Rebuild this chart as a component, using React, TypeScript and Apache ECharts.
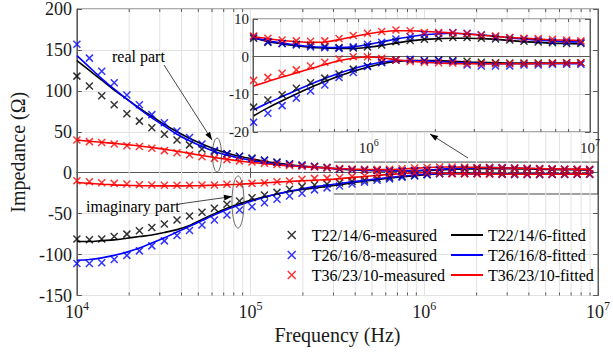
import { useEffect, useRef } from 'react';
import * as echarts from 'echarts';

const FONT = 'Liberation Serif';
const TXT = '#1a1a1a';
const AXIS = '#5a5a5a';
const GRID = '#e3e3e3';
const CROSS = 'path://M0,0L10,10M10,0L0,10';

const measuredNames = ['T22/14/6-measured', 'T26/16/8-measured', 'T36/23/10-measured'];
const fittedNames = ['T22/14/6-fitted', 'T26/16/8-fitted', 'T36/23/10-fitted'];
const seriesColors = ['#000000', '#0000ff', '#ff0000'];

// measurement frequencies of the main plot (Hz)
const freqMain = [10000, 11800, 13900, 16400, 19400, 22900, 27000, 31900, 37700, 44500, 52500, 61900, 73100, 86300,
  101900, 120200, 141900, 167500, 197700, 233300, 275400, 325100, 383700, 452900, 534600, 631000, 744700, 879000,
  1037500, 1224600, 1445400, 1706100, 2013700, 2376800, 2805400, 3311300, 3908400, 4613200, 5445000, 6426900,
  7585800, 8953600];

// main plot measured values (Ohm)
const blackReMeas = [118, 106, 94, 83, 72, 63, 55, 47, 40, 34, 29, 26, 23, 20, 18, 15.5, 13, 11, 9.5, 8, 6.5,
  4.3, 3.6, 3.4, 3.0, 2.7, 2.4, 2.3, 2.8, 3.4, 4.1, 4.5, 4.8, 5.1, 5.1, 4.9, 4.7, 4.4, 4.1, 3.9, 3.7, 3.5];
const blueReMeas = [157, 140, 124, 110, 95, 83, 71, 61, 51, 43, 35, 27, 23, 20, 17, 15, 12.5, 10.5, 9, 7.5, 6,
  4.6, 3.7, 3.2, 2.7, 2.4, 2.2, 2.7, 3.4, 4.2, 5.0, 5.7, 6.1, 6.4, 6.2, 5.7, 5.2, 4.9, 4.5, 4.2, 4.0, 3.8];
const redReMeas = [40, 38, 37, 35, 33, 32, 30, 27, 24.5, 22, 19.5, 17.5, 16, 14.5, 13, 11.5, 10, 9, 8, 7, 6,
  5.2, 4.6, 4.3, 4.1, 4.2, 4.9, 5.7, 6.4, 6.9, 7.0, 6.6, 6.4, 6.3, 6.1, 5.7, 5.4, 5.0, 4.8, 4.6, 4.4, 4.2];
const blackImMeas = [-81, -82, -81, -78, -75, -71, -67, -62.6, -57.7, -52.8, -48.3, -43.4, -38.6, -34.5, -30.5,
  -27.2, -24, -20.3, -17, -15, -13.8, -12.4, -10.6, -8.8, -7.1, -5.7, -4.5, -3.2, -2.3, -1.3, -0.9, -0.9, -1.0,
  -0.9, -1.1, -1.4, -1.6, -1.7, -1.7, -1.7, -1.6, -1.6];
const blueImMeas = [-111, -111, -110, -106, -101, -95.5, -89.4, -83.3, -76.8, -70.7, -63.8, -57.7, -51.6, -45.5,
  -41.5, -36.6, -32.4, -28.4, -25.2, -21, -18.5, -16.2, -13.8, -11.5, -9.3, -7.5, -5.4, -3.9, -2.3, -1.3, -0.8,
  -0.9, -1.0, -1.2, -2.2, -2.5, -2.5, -2.4, -2.2, -2.1, -2.0, -2.0];
const redImMeas = [-9.8, -11, -12.2, -13, -13.8, -14.6, -15, -15.4, -15.4, -15.4, -15, -15, -14.2, -13.8, -13,
  -12.2, -11, -10.1, -8, -6.9, -6.6, -5.9, -4.8, -3.7, -2.6, -1.5, -0.5, 0, -0.1, -0.6, -1.1, -1.4, -1.6, -1.7,
  -1.9, -1.9, -1.9, -1.9, -1.9, -1.8, -1.7, -1.6];

// fitted values at the first 21 main frequencies (below 3e5 Hz)
const blackReFitLow = [137, 125, 113, 101, 90, 79, 69, 59, 50, 42, 35, 29, 24, 20, 16.8, 14, 11.7, 9.8, 8.2, 7.0, 5.9];
const blueReFitLow = [143, 129, 115, 102, 90, 78, 67, 57, 47, 39, 32, 26, 21.5, 18, 15, 12.5, 10.5, 9.0, 7.8, 6.8, 5.8];
const redReFitLow = [40, 38.5, 37.2, 35.8, 34.3, 32.7, 30.8, 28.6, 26.2, 23.6, 21, 18.6, 16.4, 14.4, 12.6, 11, 9.6,
  8.4, 7.3, 6.5, 5.8];
const blackImFitLow = [-84, -84, -83, -82, -80, -78, -76, -73, -69.5, -64.5, -57, -50, -43.5, -38, -33.5, -29.5,
  -26, -23, -20.5, -18.5, -16.8];
const blueImFitLow = [-107, -106, -104, -101, -97, -92, -86, -79.5, -72.5, -65.5, -58.5, -51.5, -45, -39.5, -34.5,
  -30, -26, -22.5, -19.5, -17, -15.2];
const redImFitLow = [-12, -13, -14, -14.8, -15.4, -15.8, -16, -16.1, -16.1, -16, -15.7, -15.3, -14.7, -14, -13.2,
  -12.4, -11.5, -10.7, -9.9, -9.2, -8.4];

// inset frequencies (Hz)
const freqZoom = [302000, 350200, 406100, 470900, 546000, 633100, 734200, 851300, 987200, 1144700, 1327400,
  1539200, 1784800, 2069700, 2400000, 2782900, 3227000, 3741900, 4339100, 5031500, 5834500, 6765400, 7845100,
  9097000];

// inset measured values
const zBlackReMeas = [4.9, 3.8, 3.5, 3.3, 3.0, 2.7, 2.4, 2.3, 2.6, 3.1, 4.0, 4.3, 4.6, 4.9, 5.1, 5.1, 4.9, 4.7, 4.4,
  4.1, 3.9, 3.7, 3.5, 3.5];
const zBlueReMeas = [5.3, 4.0, 3.5, 3.1, 2.6, 2.4, 2.2, 2.6, 3.3, 3.8, 4.7, 5.3, 5.9, 6.2, 6.4, 6.2, 5.8, 5.3, 5.0,
  4.7, 4.4, 4.1, 4.0, 3.8];
const zRedReMeas = [5.5, 4.9, 4.4, 4.2, 4.1, 4.2, 4.8, 5.6, 6.2, 6.7, 7.1, 6.9, 6.4, 6.4, 6.3, 6.1, 5.7, 5.5, 5.1,
  4.9, 4.8, 4.6, 4.4, 4.2];
const zBlackImMeas = [-13.4, -11.5, -10.1, -8.4, -6.9, -5.7, -4.6, -3.3, -2.5, -1.4, -0.9, -0.9, -1.1, -0.9, -1.0,
  -1.2, -1.5, -1.6, -1.7, -1.7, -1.7, -1.7, -1.6, -1.6];
const zBlueImMeas = [-17.4, -15, -13, -11, -9.1, -7.5, -5.5, -4.2, -2.6, -1.6, -0.9, -0.7, -1.1, -1.0, -1.2, -2.2,
  -2.5, -2.5, -2.5, -2.2, -2.2, -2.0, -2.0, -2.0];
const zRedImMeas = [-6.3, -5.5, -4.4, -3.5, -2.5, -1.5, -0.6, 0, 0, -0.4, -0.9, -1.3, -1.5, -1.6, -1.7, -1.9, -1.9,
  -1.9, -1.9, -1.9, -1.9, -1.7, -1.7, -1.6];

// inset fitted values
const zBlackReFit = [5.0, 4.0, 3.4, 2.9, 2.5, 2.3, 2.2, 2.2, 2.5, 3.0, 3.6, 4.2, 4.6, 4.8, 4.9, 4.9, 4.8, 4.6, 4.3,
  4.0, 3.8, 3.6, 3.5, 3.4];
const zBlueReFit = [5.0, 4.2, 3.6, 3.1, 2.7, 2.5, 2.4, 2.6, 3.2, 3.9, 4.7, 5.3, 5.8, 6.1, 6.2, 6.1, 5.8, 5.4, 5.0,
  4.7, 4.4, 4.2, 4.0, 3.9];
const zRedReFit = [5.3, 4.8, 4.3, 4.0, 3.8, 3.9, 4.5, 5.3, 6.0, 6.6, 6.9, 6.9, 6.7, 6.5, 6.3, 6.0, 5.7, 5.4, 5.1,
  4.9, 4.7, 4.5, 4.4, 4.3];
const zBlackImFit = [-15.7, -13.6, -11.7, -9.9, -8.2, -6.6, -5.2, -3.9, -2.8, -1.9, -1.3, -1.0, -1.0, -1.1, -1.2,
  -1.4, -1.5, -1.6, -1.7, -1.7, -1.7, -1.7, -1.7, -1.7];
const zBlueImFit = [-14.1, -12.3, -10.6, -8.9, -7.3, -5.8, -4.4, -3.2, -2.2, -1.5, -1.1, -1.0, -1.1, -1.3, -1.5,
  -1.7, -1.8, -1.9, -1.9, -1.9, -1.9, -1.9, -1.9, -1.9];
const zRedImFit = [-7.8, -6.6, -5.4, -4.3, -3.2, -2.1, -1.1, -0.4, -0.1, -0.3, -0.8, -1.2, -1.5, -1.7, -1.8, -1.9,
  -1.9, -1.9, -1.9, -1.9, -1.8, -1.8, -1.7, -1.7];

// axis ranges / ticks
const mainX = [1e4, 1e7];
const mainY = [-150, 200];
const mainYStep = 50;
const zoomX = [3e5, 1e7];
const zoomY = [-20, 10];
const zoomYStep = 10;
const zoomBox = [[3e5, 13], [1e7, -26]];

const minorOf = (lo: number, hi: number) => {
  const out: number[] = [];
  for (let d = 1e4; d < hi; d *= 10) {
    for (let m = 2; m <= 9; m++) {
      const v = m * d;
      if (v > lo && v < hi) out.push(v);
    }
  }
  return out;
};

const pairs = (fs: number[], vs: number[]) => fs.map((f, i) => [f, vs[i]]);

const logLabel = (v: number) => {
  const l = Math.log10(v);
  const e = Math.round(l);
  if (Math.abs(l - e) > 1e-6) return '';
  return `{b|10}{s|${e}}`;
};

export default function App() {
  const ref = useRef<HTMLDivElement>(null);
  useEffect(() => {
    if (!ref.current) return;
    const chart = echarts.init(ref.current, undefined, { renderer: 'svg' });

    const mainMeas = [[blackReMeas, blackImMeas], [blueReMeas, blueImMeas], [redReMeas, redImMeas]];
    const lowFit = [[blackReFitLow, blackImFitLow], [blueReFitLow, blueImFitLow], [redReFitLow, redImFitLow]];
    const zMeas = [[zBlackReMeas, zBlackImMeas], [zBlueReMeas, zBlueImMeas], [zRedReMeas, zRedImMeas]];
    const zFit = [[zBlackReFit, zBlackImFit], [zBlueReFit, zBlueImFit], [zRedReFit, zRedImFit]];
    const freqLow = freqMain.slice(0, blackReFitLow.length);

    const minorRender = (yMin: number, yMax: number) => (params: any, api: any) => {
      const f = api.value(0);
      const a = api.coord([f, yMax]);
      const b = api.coord([f, yMin]);
      return {
        type: 'group',
        children: [
          { type: 'line', shape: { x1: a[0], y1: a[1], x2: b[0], y2: b[1] }, style: { stroke: GRID, lineWidth: 1 } },
          { type: 'line', shape: { x1: b[0], y1: b[1], x2: b[0], y2: b[1] - 3 }, style: { stroke: AXIS, lineWidth: 1 } },
          { type: 'line', shape: { x1: a[0], y1: a[1], x2: a[0], y2: a[1] + 3 }, style: { stroke: AXIS, lineWidth: 1 } },
        ],
      };
    };

    const series: any[] = [];
    series.push({
      type: 'custom', xAxisIndex: 0, yAxisIndex: 0, silent: true, z: 1,
      data: minorOf(mainX[0], mainX[1]).map((f) => [f, 0]), encode: { x: 0, y: 1 },
      renderItem: minorRender(mainY[0], mainY[1]),
    });
    series.push({
      type: 'custom', xAxisIndex: 2, yAxisIndex: 2, silent: true, z: 11,
      data: minorOf(zoomX[0], zoomX[1]).map((f) => [f, 0]), encode: { x: 0, y: 1 },
      renderItem: minorRender(zoomY[0], zoomY[1]),
    });

    const addSet = (inset: boolean) => {
      const xi = inset ? 2 : 0;
      const z = inset ? 12 : 2;
      for (let c = 0; c < 3; c++) {
        for (let p = 0; p < 2; p++) {
          const s: any = {
            type: 'scatter', name: measuredNames[c], xAxisIndex: xi, yAxisIndex: xi, z, silent: true,
            data: inset ? pairs(freqZoom, zMeas[c][p]) : pairs(freqMain, mainMeas[c][p]),
            symbol: CROSS, symbolSize: 7, symbolKeepAspect: true,
            itemStyle: { color: 'rgba(0,0,0,0)', borderColor: seriesColors[c], borderWidth: 1.5 },
          };
          if (!inset && c === 0 && p === 0) {
            s.markArea = {
              silent: true,
              itemStyle: { color: 'rgba(0,0,0,0)', borderColor: '#444', borderWidth: 1 },
              data: [[{ coord: zoomBox[0] }, { coord: zoomBox[1] }]],
            };
          }
          series.push(s);
        }
      }
      for (let c = 0; c < 3; c++) {
        for (let p = 0; p < 2; p++) {
          const data = inset
            ? pairs(freqZoom, zFit[c][p])
            : [...pairs(freqLow, lowFit[c][p]), ...pairs(freqZoom, zFit[c][p])];
          series.push({
            type: 'line', name: fittedNames[c], xAxisIndex: xi, yAxisIndex: xi, z, silent: true,
            data, symbol: 'none', showSymbol: false, smooth: 0.3,
            lineStyle: { color: seriesColors[c], width: 1.6 }, itemStyle: { color: seriesColors[c] },
          });
        }
      }
    };
    addSet(false);
    addSet(true);

    const richMain = {
      b: { fontSize: 18, fontFamily: FONT, color: TXT, padding: [3, 0, 0, 0] },
      s: { fontSize: 12, fontFamily: FONT, color: TXT, verticalAlign: 'top' },
    };
    const richZoom = {
      b: { fontSize: 15, fontFamily: FONT, color: TXT, padding: [3, 0, 0, 0] },
      s: { fontSize: 10, fontFamily: FONT, color: TXT, verticalAlign: 'top' },
    };
    const axisLine = { show: true, lineStyle: { color: AXIS, width: 1 } };
    const tick = { show: true, inside: true, length: 5, lineStyle: { color: AXIS, width: 1 } };
    const split = { show: true, lineStyle: { color: GRID, width: 1 } };

    const arrowHead = (tip: number[], from: number[]) => {
      const dx = tip[0] - from[0];
      const dy = tip[1] - from[1];
      const len = Math.hypot(dx, dy);
      const ux = dx / len, uy = dy / len;
      const bx = tip[0] - 8 * ux, by = tip[1] - 8 * uy;
      return {
        type: 'polygon', z: 20, silent: true,
        shape: { points: [tip, [bx - 2.8 * uy, by + 2.8 * ux], [bx + 2.8 * uy, by - 2.8 * ux]] },
        style: { fill: '#000' },
      };
    };
    const arrow = (from: number[], tip: number[]) => [
      { type: 'line', z: 20, silent: true, shape: { x1: from[0], y1: from[1], x2: tip[0], y2: tip[1] }, style: { stroke: '#333', lineWidth: 0.9 } },
      arrowHead(tip, from),
    ];

    const labelFont = { fontFamily: FONT, color: TXT };

    const option: any = {
      animation: false,
      backgroundColor: '#ffffff',
      textStyle: { fontFamily: FONT },
      grid: [
        { left: 73, top: 9, width: 528, height: 286.5, show: true, borderColor: AXIS, borderWidth: 1, backgroundColor: 'rgba(0,0,0,0)', z: 0 },
        { left: 253, top: 19, width: 337, height: 113, show: true, borderColor: AXIS, borderWidth: 1, backgroundColor: '#ffffff', z: 10 },
      ],
      xAxis: [
        {
          type: 'log', logBase: 10, gridIndex: 0, min: mainX[0], max: mainX[1], position: 'bottom',
          axisLine, axisTick: tick, splitLine: split,
          axisLabel: { ...labelFont, formatter: logLabel, rich: richMain, margin: 4, showMinLabel: true, showMaxLabel: true, hideOverlap: false },
          name: 'Frequency (Hz)', nameLocation: 'middle', nameGap: 25,
          nameTextStyle: { ...labelFont, fontSize: 20 },
        },
        {
          type: 'log', logBase: 10, gridIndex: 0, min: mainX[0], max: mainX[1], position: 'top',
          axisLine, axisTick: tick, splitLine: { show: false }, axisLabel: { show: false },
        },
        {
          type: 'log', logBase: 10, gridIndex: 1, min: zoomX[0], max: zoomX[1], position: 'bottom', z: 11,
          axisLine, axisTick: tick, splitLine: split,
          axisLabel: { ...labelFont, formatter: logLabel, rich: richZoom, margin: 5, showMinLabel: true, showMaxLabel: true, hideOverlap: false },
        },
        {
          type: 'log', logBase: 10, gridIndex: 1, min: zoomX[0], max: zoomX[1], position: 'top', z: 11,
          axisLine, axisTick: tick, splitLine: { show: false }, axisLabel: { show: false },
        },
      ],
      yAxis: [
        {
          type: 'value', gridIndex: 0, min: mainY[0], max: mainY[1], interval: mainYStep,
          axisLine, axisTick: tick, splitLine: split,
          axisLabel: { ...labelFont, fontSize: 18, margin: 5 },
          name: 'Impedance (Ω)', nameLocation: 'middle', nameGap: 46, nameRotate: 90,
          nameTextStyle: { ...labelFont, fontSize: 20 },
        },
        {
          type: 'value', gridIndex: 0, position: 'right', min: mainY[0], max: mainY[1], interval: mainYStep,
          axisLine, axisTick: tick, splitLine: { show: false }, axisLabel: { show: false },
        },
        {
          type: 'value', gridIndex: 1, min: zoomY[0], max: zoomY[1], interval: zoomYStep, z: 11,
          axisLine, axisTick: tick, splitLine: split,
          axisLabel: { ...labelFont, fontSize: 15, margin: 4 },
        },
        {
          type: 'value', gridIndex: 1, position: 'right', min: zoomY[0], max: zoomY[1], interval: zoomYStep, z: 11,
          axisLine, axisTick: tick, splitLine: { show: false }, axisLabel: { show: false },
        },
      ],
      legend: [
        {
          data: measuredNames, orient: 'vertical', left: 287, top: 225, padding: 0, itemGap: 0,
          itemWidth: 30, itemHeight: 8, symbolKeepAspect: true, selectedMode: false,
          itemStyle: { borderWidth: 1.5 },
          textStyle: { fontSize: 16, fontFamily: FONT, color: '#000', lineHeight: 20 },
        },
        {
          data: fittedNames, orient: 'vertical', left: 451, top: 225, padding: 0, itemGap: 0,
          itemWidth: 32, itemHeight: 2, icon: 'rect', selectedMode: false,
          textStyle: { fontSize: 16, fontFamily: FONT, color: '#000', lineHeight: 20 },
        },
      ],
      graphic: [
        { type: 'text', x: 112, y: 56, z: 20, silent: true, style: { text: 'real part', fontSize: 16, fontFamily: FONT, fill: '#000', verticalAlign: 'middle' } },
        { type: 'text', x: 86, y: 206, z: 20, silent: true, style: { text: 'imaginary part', fontSize: 16, fontFamily: FONT, fill: '#000', verticalAlign: 'middle' } },
        ...arrow([164, 65], [212, 140]),
        ...arrow([179, 204], [232, 196.5]),
        ...arrow([468, 158], [430, 134]),
        { type: 'ellipse', z: 20, silent: true, shape: { cx: 217, cy: 155, rx: 4.5, ry: 17 }, style: { fill: 'none', stroke: '#444', lineWidth: 0.8 } },
        { type: 'ellipse', z: 20, silent: true, shape: { cx: 238, cy: 202, rx: 6, ry: 26 }, style: { fill: 'none', stroke: '#444', lineWidth: 0.8 } },
      ],
      series,
    };
    chart.setOption(option);
    return () => chart.dispose();
  }, []);
  return <div ref={ref} style={{ position: 'absolute', left: 0, top: 0, width: 613, height: 354 }} />;
}
